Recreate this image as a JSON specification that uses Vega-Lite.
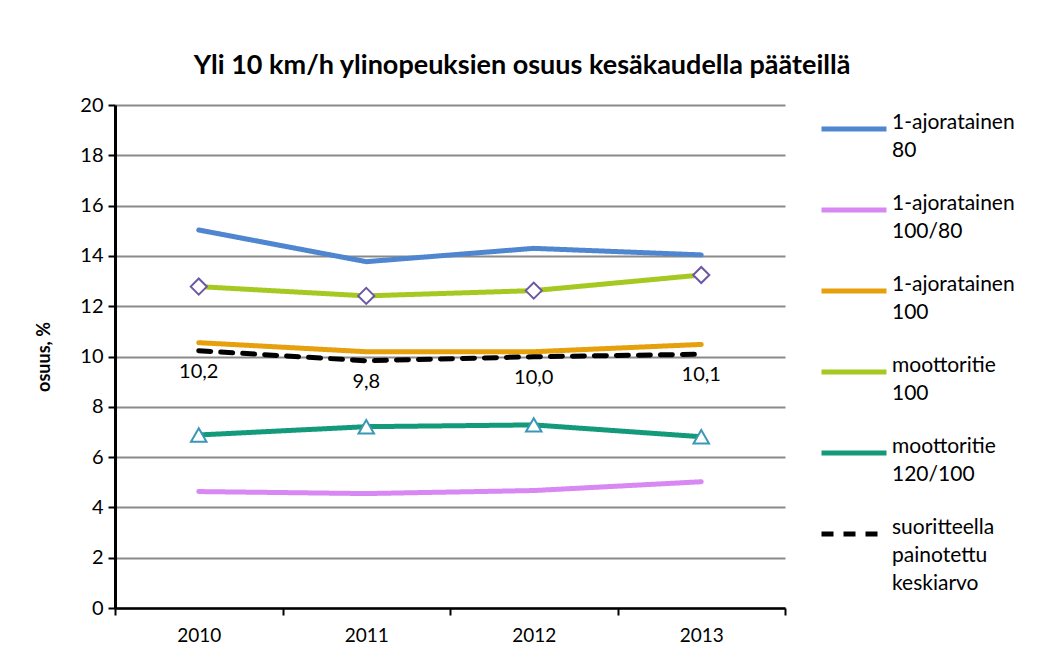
{
  "$schema": "https://vega.github.io/schema/vega-lite/v6.json",
  "width": 670,
  "height": 503,
  "autosize": {"type": "none"},
  "padding": {"left": 115, "top": 105, "right": 259, "bottom": 51},
  "background": "white",
  "title": {
    "text": "Yli 10 km/h ylinopeuksien osuus kesäkaudella pääteillä",
    "font": "Lato",
    "fontSize": 27,
    "fontWeight": "bold",
    "color": "black",
    "dx": 72,
    "offset": 14
  },
  "config": {
    "view": {"stroke": null},
    "font": "Lato",
    "locale": {"number": {"decimal": ",", "thousands": "\u00a0", "grouping": [3], "currency": ["", " €"]}},
    "style": {"guide-label": {"lineHeight": 28}}
  },
  "data": {
    "values": [
      {"year": 2010, "series": "1-ajoratainen 80", "value": 15.03},
      {"year": 2011, "series": "1-ajoratainen 80", "value": 13.77},
      {"year": 2012, "series": "1-ajoratainen 80", "value": 14.30},
      {"year": 2013, "series": "1-ajoratainen 80", "value": 14.04},
      {"year": 2010, "series": "1-ajoratainen 100/80", "value": 4.63},
      {"year": 2011, "series": "1-ajoratainen 100/80", "value": 4.55},
      {"year": 2012, "series": "1-ajoratainen 100/80", "value": 4.67},
      {"year": 2013, "series": "1-ajoratainen 100/80", "value": 5.02},
      {"year": 2010, "series": "1-ajoratainen 100", "value": 10.55},
      {"year": 2011, "series": "1-ajoratainen 100", "value": 10.19},
      {"year": 2012, "series": "1-ajoratainen 100", "value": 10.19},
      {"year": 2013, "series": "1-ajoratainen 100", "value": 10.48},
      {"year": 2010, "series": "moottoritie 100", "value": 12.78},
      {"year": 2011, "series": "moottoritie 100", "value": 12.41},
      {"year": 2012, "series": "moottoritie 100", "value": 12.62},
      {"year": 2013, "series": "moottoritie 100", "value": 13.24},
      {"year": 2010, "series": "moottoritie 120/100", "value": 6.88},
      {"year": 2011, "series": "moottoritie 120/100", "value": 7.21},
      {"year": 2012, "series": "moottoritie 120/100", "value": 7.28},
      {"year": 2013, "series": "moottoritie 120/100", "value": 6.81},
      {"year": 2010, "series": "suoritteella painotettu keskiarvo", "value": 10.23},
      {"year": 2011, "series": "suoritteella painotettu keskiarvo", "value": 9.83},
      {"year": 2012, "series": "suoritteella painotettu keskiarvo", "value": 9.99},
      {"year": 2013, "series": "suoritteella painotettu keskiarvo", "value": 10.09}
    ]
  },
  "encoding": {
    "x": {
      "field": "year",
      "type": "quantitative",
      "scale": {"domain": [2009.5, 2013.5], "nice": false, "zero": false},
      "axis": {
        "title": null,
        "values": [2009.5, 2010.5, 2011.5, 2012.5, 2013.5],
        "labelExpr": "datum.value < 2013 ? toString(datum.value + 0.5) : ''",
        "labelOffset": 83.75,
        "labelFlush": false,
        "labelOverlap": false,
        "labelFontSize": 19,
        "labelColor": "black",
        "labelPadding": 11,
        "grid": false,
        "domainColor": "black",
        "domainWidth": 2.5,
        "tickColor": "black",
        "tickWidth": 2,
        "tickSize": 7
      }
    },
    "y": {
      "field": "value",
      "type": "quantitative",
      "scale": {"domain": [0, 20], "nice": false},
      "axis": {
        "title": "osuus, %",
        "titleFontSize": 18,
        "titleFontWeight": "bold",
        "titleColor": "black",
        "titlePadding": 26,
        "values": [0, 2, 4, 6, 8, 10, 12, 14, 16, 18, 20],
        "format": "d",
        "labelFontSize": 20,
        "labelColor": "black",
        "labelPadding": 5,
        "grid": true,
        "gridColor": "#8a8a8a",
        "gridWidth": 2,
        "domainColor": "black",
        "domainWidth": 3,
        "tickColor": "black",
        "tickWidth": 2,
        "tickSize": 7
      }
    }
  },
  "layer": [
    {
      "mark": {"type": "line", "strokeWidth": 5, "strokeCap": "round"},
      "encoding": {
        "color": {
          "field": "series",
          "type": "nominal",
          "scale": {
            "domain": ["1-ajoratainen 80", "1-ajoratainen 100/80", "1-ajoratainen 100", "moottoritie 100", "moottoritie 120/100", "suoritteella painotettu keskiarvo"],
            "range": ["#4f86cf", "#d888f2", "#e6a00c", "#a6c922", "#139a7b", "#000000"]
          },
          "legend": {
            "title": null,
            "orient": "none",
            "legendX": 704,
            "legendY": -11,
            "symbolType": "stroke",
            "symbolSize": 4225,
            "symbolStrokeWidth": 5,
            "labelExpr": "split(datum.label, ' ')",
            "labelFontSize": 21,
            "labelColor": "black",
            "labelBaseline": "alphabetic",
            "labelOffset": 3,
            "labelLimit": 300,
            "rowPadding": 14
          }
        },
        "strokeDash": {
          "field": "series",
          "type": "nominal",
          "scale": {
            "domain": ["1-ajoratainen 80", "1-ajoratainen 100/80", "1-ajoratainen 100", "moottoritie 100", "moottoritie 120/100", "suoritteella painotettu keskiarvo"],
            "range": [[1, 0], [1, 0], [1, 0], [1, 0], [1, 0], [12, 10]]
          },
          "legend": {
            "title": null,
            "orient": "none",
            "legendX": 704,
            "legendY": -11,
            "symbolType": "stroke",
            "symbolSize": 4225,
            "symbolStrokeWidth": 5,
            "labelExpr": "split(datum.label, ' ')",
            "labelFontSize": 21,
            "labelColor": "black",
            "labelBaseline": "alphabetic",
            "labelOffset": 3,
            "labelLimit": 300,
            "rowPadding": 14
          }
        }
      }
    },
    {
      "transform": [{"filter": "datum.series === 'moottoritie 100'"}],
      "mark": {"type": "point", "shape": "diamond", "filled": true, "fill": "white", "stroke": "#6b57a3", "strokeWidth": 2, "size": 260, "opacity": 1}
    },
    {
      "transform": [{"filter": "datum.series === 'moottoritie 120/100'"}],
      "mark": {"type": "point", "shape": "triangle-up", "filled": true, "fill": "white", "stroke": "#3a98b6", "strokeWidth": 2, "size": 240, "opacity": 1}
    },
    {
      "transform": [{"filter": "datum.series === 'suoritteella painotettu keskiarvo'"}],
      "mark": {"type": "text", "dy": 21, "fontSize": 20, "color": "black", "font": "Lato"},
      "encoding": {
        "text": {"field": "value", "type": "quantitative", "format": ".1f"}
      }
    }
  ]
}
